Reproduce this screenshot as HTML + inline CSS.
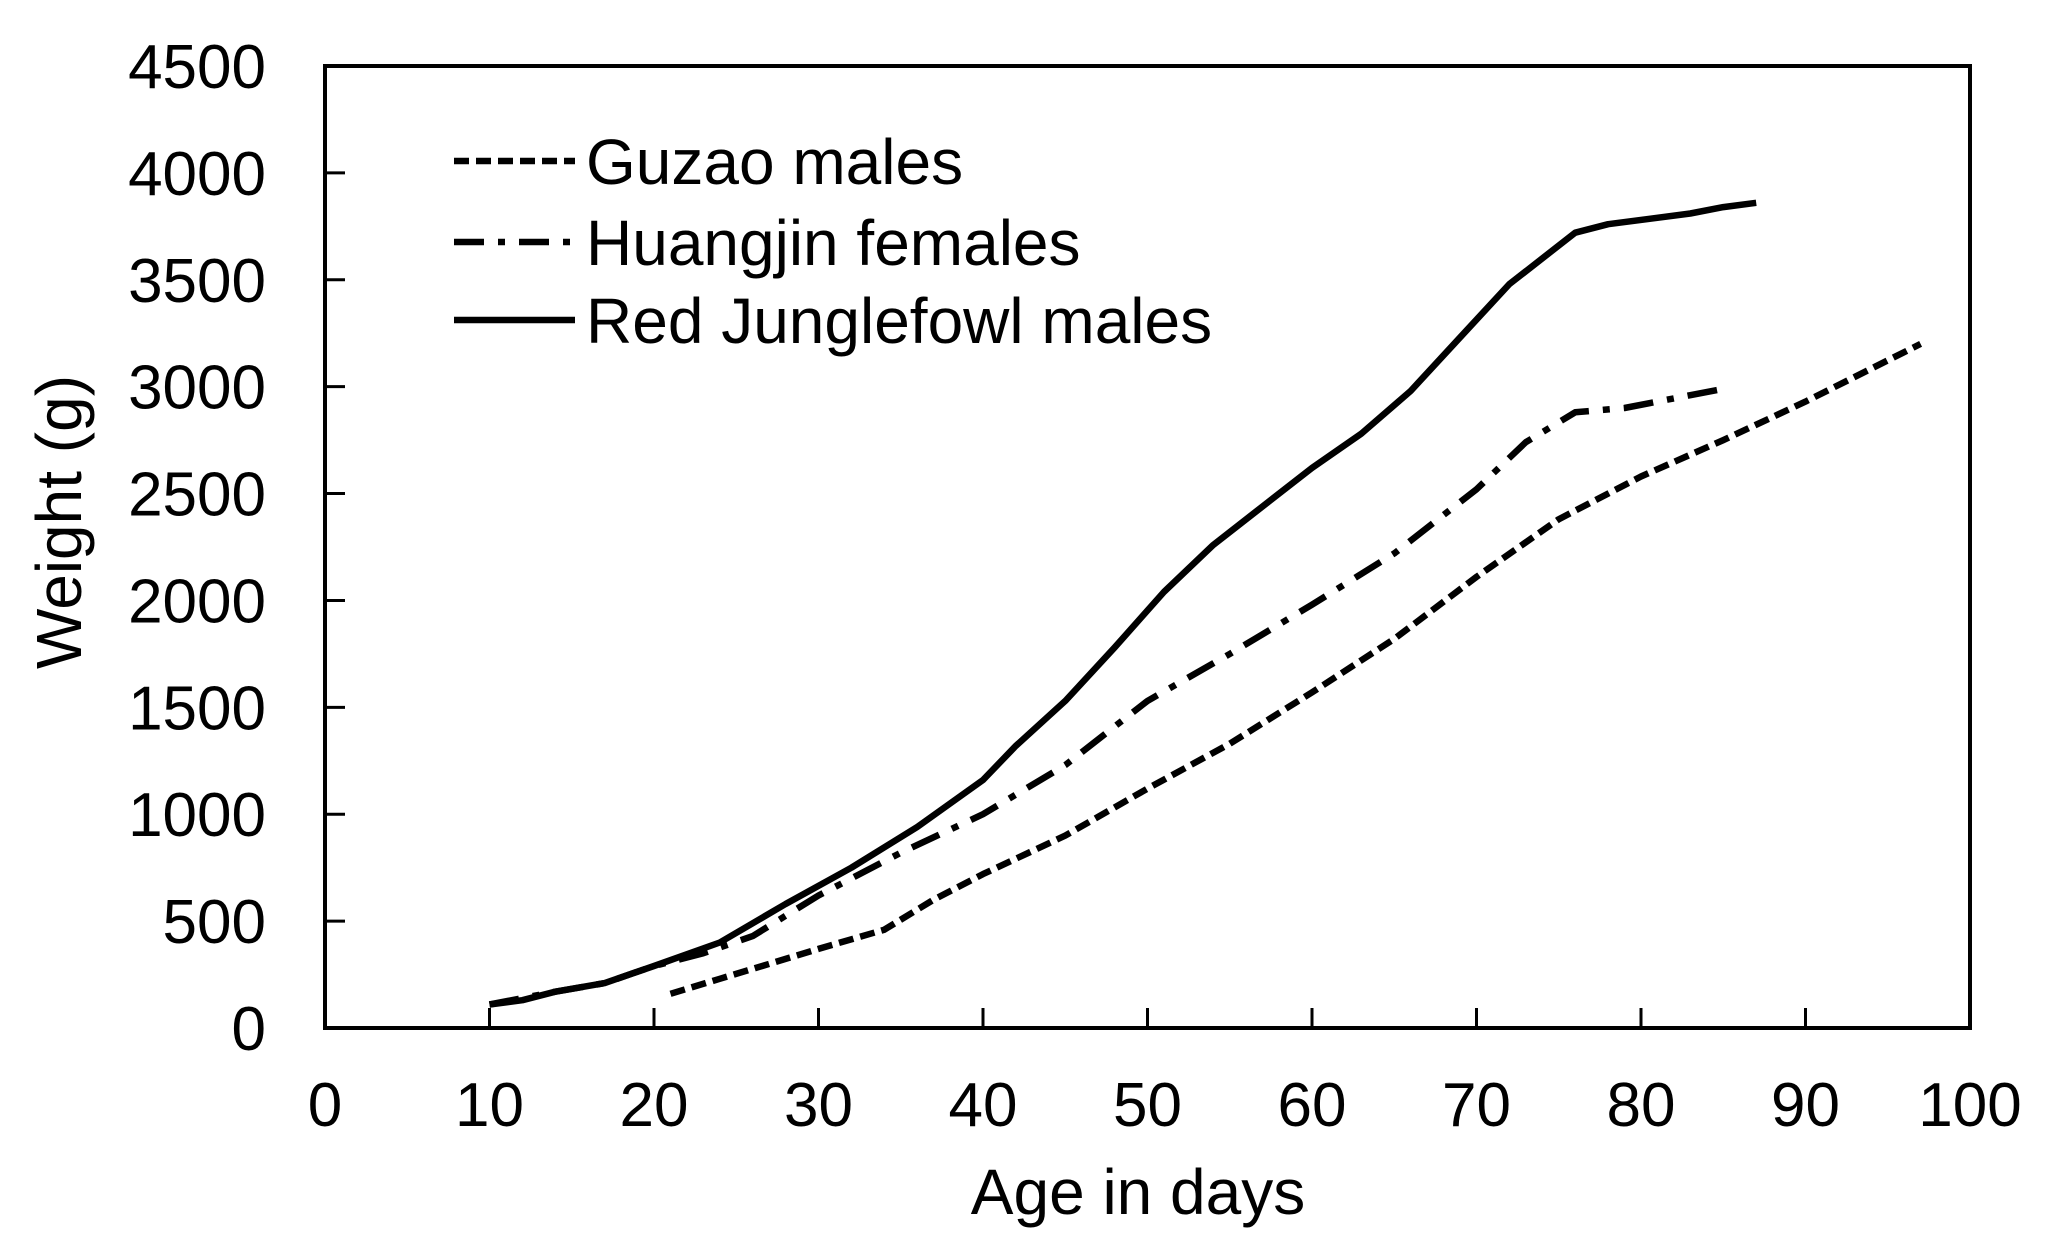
<!DOCTYPE html>
<html><head><meta charset="utf-8"><style>
html,body{margin:0;padding:0;background:#fff;}
svg{display:block;font-family:"Liberation Sans",Arial,sans-serif;}
</style></head><body>
<svg id="chart" width="2048" height="1244" viewBox="0 0 2048 1244" xmlns="http://www.w3.org/2000/svg">
<g id="grid"></g>
<g id="series"></g>
<text x="1138" y="1214" font-size="64" text-anchor="middle">Age in days</text>
<text transform="translate(81,522) rotate(-90)" font-size="64" text-anchor="middle">Weight (g)</text>
<g>
 <line x1="454" y1="161" x2="575" y2="161" stroke="#000" stroke-width="6.5" stroke-dasharray="15,7"/>
 <text x="586" y="184" font-size="64">Guzao males</text>
 <line x1="454" y1="242" x2="575" y2="242" stroke="#000" stroke-width="6.5" stroke-dasharray="30,14,7,14"/>
 <text x="586" y="265" font-size="64">Huangjin females</text>
 <line x1="454" y1="320" x2="575" y2="320" stroke="#000" stroke-width="6.5"/>
 <text x="586" y="343" font-size="64">Red Junglefowl males</text>
</g>
</svg>
<script>
const xTicks=[0,10,20,30,40,50,60,70,80,90,100];
const yTicks=[0,500,1000,1500,2000,2500,3000,3500,4000,4500];
const rjfDays=[10,12,14,17,20,24,28,32,36,40,42,45,48,51,54,57,60,63,66,69,72,76,78,83,85,87];
const rjfWeight=[110,130,170,210,290,400,580,750,940,1160,1320,1530,1780,2040,2260,2440,2620,2780,2980,3230,3480,3720,3760,3810,3840,3860];
const hjDays=[10,14,17,20,23,26,30,35,40,45,50,55,60,65,70,73,76,79,83,85];
const hjWeight=[110,170,210,290,350,430,620,820,1000,1230,1530,1750,1980,2220,2520,2740,2880,2900,2960,2990];
const gzDays=[21,24,27,30,34,37,40,45,50,55,60,65,70,75,80,85,90,97];
const gzWeight=[160,230,300,370,460,600,720,900,1120,1330,1570,1820,2110,2380,2580,2750,2930,3200];
const NS='http://www.w3.org/2000/svg';
const L=325,R=1970,T=66,B=1028;
const xs=d=>L+(d/100)*(R-L);
const ys=w=>B-(w/4500)*(B-T);
function mk(tag,attrs,parent){const e=document.createElementNS(NS,tag);for(const k in attrs)e.setAttribute(k,attrs[k]);parent.appendChild(e);return e;}
const g=document.getElementById('grid');
const frame=mk('rect',{x:L,y:T,width:R-L,height:B-T,fill:'none',stroke:'#000','stroke-width':4},g);


xTicks.forEach(t=>{
 const ln=mk('line',{x1:xs(t),x2:xs(t),y1:B,y2:B-20,stroke:'#000','stroke-width':3},g);
 
 
 const tx=mk('text',{x:xs(t),y:1126,'font-size':62,'text-anchor':'middle'},g);
 tx.textContent=t;
 
 
});
yTicks.forEach(t=>{
 const ln=mk('line',{x1:L,x2:L+20,y1:ys(t),y2:ys(t),stroke:'#000','stroke-width':3},g);
 
 
 const tx=mk('text',{x:266,y:ys(t)+22,'font-size':62,'text-anchor':'end'},g);
 tx.textContent=t;
 
 
});
const s=document.getElementById('series');
function line(days,wts,dash,name){
 const pts=days.map((d,i)=>xs(d).toFixed(1)+','+ys(wts[i]).toFixed(1)).join(' ');
 const p=mk('polyline',{points:pts,fill:'none',stroke:'#000','stroke-width':6.5,'stroke-linejoin':'round'},s);
 if(dash)p.setAttribute('stroke-dasharray',dash);
 
 
}
line(gzDays,gzWeight,'15,7','guzao-males-line');
line(hjDays,hjWeight,'30,14,7,14','huangjin-females-line');
line(rjfDays,rjfWeight,null,'red-junglefowl-males-line');
</script>
</body></html>
